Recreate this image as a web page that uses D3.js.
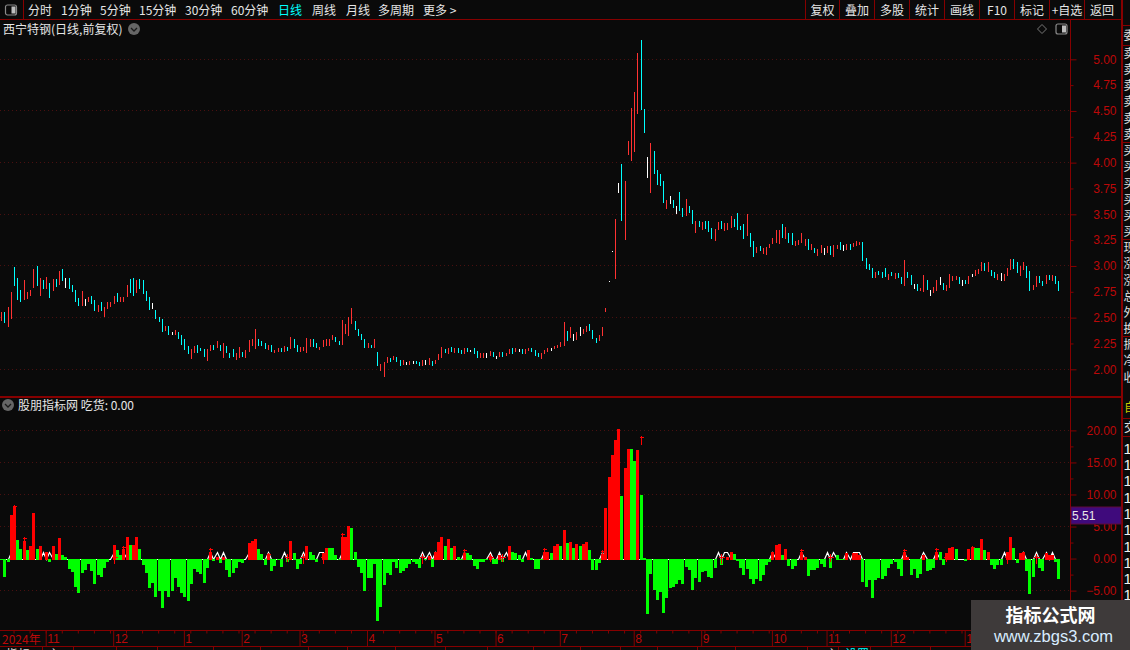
<!DOCTYPE html>
<html>
<head>
<meta charset="utf-8">
<title>西宁特钢</title>
<script src="https://cdn.jsdelivr.net/npm/d3@7"></script>
<style>
  html, body { margin: 0; padding: 0; background: #0a0a0a; overflow: hidden; }
  svg { display: block; }
  text { font-family: "Noto Sans CJK SC", "Liberation Sans", sans-serif; }
  .num text, text.num { font-family: "Liberation Sans", Arial, sans-serif; }
</style>
</head>
<body>
<div id="chart"></div>
<script>
// daily range of each trading day (10 days per row)
var candleHigh = [
  2.55,2.55,2.60,2.75,2.99,2.88,2.77,2.86,2.75,2.77,
  2.97,3.00,2.88,2.86,2.89,2.84,2.87,2.87,2.95,2.97,
  2.88,2.88,2.82,2.77,2.69,2.76,2.68,2.70,2.71,2.67,
  2.62,2.65,2.60,2.65,2.65,2.71,2.74,2.70,2.70,2.82,
  2.87,2.88,2.86,2.87,2.86,2.76,2.70,2.64,2.57,2.51,
  2.49,2.42,2.42,2.36,2.38,2.36,2.33,2.29,2.23,2.20,
  2.23,2.24,2.21,2.20,2.20,2.24,2.24,2.27,2.24,2.25,
  2.23,2.16,2.20,2.16,2.22,2.17,2.19,2.28,2.29,2.39,
  2.29,2.27,2.25,2.24,2.24,2.19,2.21,2.21,2.23,2.22,
  2.31,2.29,2.24,2.22,2.22,2.30,2.29,2.29,2.25,2.22,
  2.28,2.29,2.29,2.33,2.31,2.27,2.48,2.44,2.51,2.59,
  2.47,2.39,2.34,2.29,2.25,2.24,2.29,2.17,2.05,2.07,
  2.12,2.11,2.13,2.12,2.09,2.09,2.07,2.08,2.08,2.08,
  2.07,2.09,2.09,2.11,2.08,2.09,2.15,2.22,2.20,2.21,
  2.22,2.21,2.21,2.19,2.21,2.21,2.19,2.21,2.18,2.16,
  2.16,2.16,2.18,2.17,2.13,2.17,2.17,2.16,2.20,2.21,
  2.21,2.20,2.20,2.20,2.21,2.21,2.19,2.16,2.16,2.19,
  2.21,2.21,2.23,2.24,2.26,2.46,2.37,2.41,2.34,2.36,
  2.41,2.39,2.42,2.44,2.38,2.30,2.33,2.41,2.59,2.85,
  3.14,3.45,3.80,3.99,3.82,4.21,4.53,4.68,5.06,5.19,
  4.52,4.05,4.19,4.11,3.93,3.89,3.82,3.64,3.68,3.64,
  3.58,3.72,3.56,3.65,3.58,3.54,3.44,3.44,3.43,3.44,
  3.44,3.37,3.36,3.43,3.44,3.42,3.42,3.48,3.45,3.51,
  3.39,3.41,3.50,3.32,3.24,3.18,3.19,3.17,3.18,3.21,
  3.27,3.35,3.35,3.41,3.38,3.32,3.32,3.24,3.25,3.32,
  3.26,3.26,3.21,3.17,3.16,3.20,3.17,3.19,3.19,3.20,
  3.20,3.23,3.20,3.21,3.21,3.22,3.24,3.23,3.23,3.08,
  3.02,2.98,2.94,2.95,2.94,2.98,2.92,2.94,2.93,2.93,
  2.89,3.06,2.94,2.91,2.83,2.83,2.79,2.91,2.86,2.77,
  2.80,2.86,2.89,2.84,2.82,2.92,2.90,2.90,2.89,2.86,
  2.86,2.90,2.92,2.96,2.97,3.04,3.03,3.04,2.96,2.94,
  2.92,2.93,2.92,2.98,3.07,3.07,3.04,3.00,3.04,3.00,
  2.95,2.82,2.90,2.90,2.85,2.91,2.91,2.91,2.90,2.85
]
var candleLow = [
  2.47,2.45,2.41,2.49,2.81,2.67,2.65,2.67,2.68,2.71,
  2.79,2.81,2.71,2.78,2.78,2.69,2.76,2.80,2.82,2.85,
  2.79,2.78,2.75,2.65,2.61,2.61,2.61,2.65,2.63,2.56,
  2.55,2.56,2.51,2.58,2.60,2.63,2.65,2.65,2.65,2.70,
  2.74,2.71,2.74,2.78,2.73,2.66,2.57,2.58,2.49,2.46,
  2.36,2.37,2.33,2.33,2.33,2.29,2.24,2.19,2.15,2.10,
  2.16,2.16,2.18,2.12,2.08,2.18,2.19,2.21,2.18,2.11,
  2.16,2.11,2.12,2.09,2.11,2.12,2.11,2.17,2.23,2.20,
  2.23,2.23,2.20,2.19,2.17,2.16,2.17,2.17,2.17,2.18,
  2.20,2.21,2.17,2.17,2.18,2.16,2.22,2.22,2.21,2.19,
  2.22,2.23,2.23,2.28,2.26,2.24,2.24,2.34,2.32,2.44,
  2.38,2.32,2.28,2.21,2.21,2.21,2.21,2.03,1.98,1.93,
  2.06,2.07,2.09,2.07,2.03,2.04,2.04,2.04,2.05,2.05,
  2.03,2.03,2.04,2.04,2.03,2.05,2.09,2.11,2.16,2.15,
  2.17,2.16,2.16,2.15,2.15,2.17,2.17,2.15,2.11,2.11,
  2.11,2.11,2.13,2.12,2.10,2.12,2.12,2.13,2.15,2.15,
  2.17,2.17,2.15,2.15,2.18,2.17,2.13,2.12,2.10,2.15,
  2.17,2.18,2.20,2.21,2.22,2.23,2.27,2.30,2.27,2.28,
  2.32,2.34,2.36,2.37,2.29,2.25,2.27,2.32,2.55,2.85,
  3.14,2.87,3.71,3.44,3.25,4.07,4.02,4.10,4.47,4.51,
  4.29,3.85,3.71,3.89,3.78,3.77,3.61,3.55,3.60,3.56,
  3.50,3.53,3.47,3.48,3.51,3.41,3.32,3.38,3.35,3.36,
  3.33,3.26,3.24,3.35,3.36,3.34,3.35,3.37,3.38,3.35,
  3.35,3.26,3.29,3.18,3.09,3.13,3.14,3.12,3.11,3.17,
  3.21,3.22,3.21,3.27,3.26,3.22,3.20,3.19,3.20,3.22,
  3.19,3.15,3.15,3.13,3.10,3.13,3.11,3.13,3.11,3.09,
  3.16,3.15,3.14,3.15,3.15,3.18,3.19,3.20,3.05,2.97,
  2.96,2.88,2.88,2.91,2.88,2.89,2.86,2.90,2.87,2.88,
  2.83,2.81,2.88,2.82,2.78,2.76,2.76,2.75,2.77,2.71,
  2.74,2.76,2.82,2.77,2.76,2.79,2.85,2.86,2.83,2.81,
  2.83,2.83,2.89,2.90,2.92,2.95,2.95,2.94,2.90,2.88,
  2.86,2.85,2.85,2.90,2.96,2.97,2.93,2.90,2.96,2.88,
  2.76,2.77,2.80,2.84,2.81,2.83,2.86,2.85,2.83,2.76
]
// r = closed up, c = closed down, w = flat
var candleKinds = (
  "rcrrcccrrr" + "rcrcrcrcrc" + "wccccrwrcc" + "rcrrrrcrrr" + "ccrccccwcc" +
  "crcwrccccr" + "rcccrrcrcr" + "cccrrcrrrr" + "cccrcrrcrc" + "rccrrrrccr" +
  "rrrrccrrrr" + "ccccrcrcrr" + "rcrccrwrwc" + "crwrcrrrcr" + "crccrcwccr" +
  "rwrcwrcrrc" + "rwcrrcccrr" + "rwrrrrcrwr" + "wrrcccrrrw" + "wrwcrrrrrc" +
  "cwrccccrwc" + "wccrccrcrc" + "ccrrcrrrcc" + "ccrccrcrrr" + "rrrcrccrrr" +
  "rcrcrrwrcr" + "rcwrcrrrcc" + "ccrcccrcrc" + "crccwcrrcw" + "rrwcrrrrcw" +
  "crwrrrcrcc" + "rwrrrccrrc" + "crrccrcrcc"
).split("")

// indicator columns, one per trading day
var barValues = [
  -0.3,-2.8,-0.5,6.8,8.0,2.9,1.5,2.7,1.3,1.9,
  7.1,1.5,1.9,0,1.0,-0.5,1.9,0.7,3.2,0.5,
  0.2,-1.7,-2.1,-4.5,-5.4,-2.3,-1.8,-0.9,-2.0,-4.0,
  -2.6,-2.9,-1.4,-0.6,0,2.1,1.3,0.5,1.5,3.3,
  2.1,2.1,3.3,1.5,-1.0,-2.3,-4.6,-3.8,-6.0,-5.1,
  -7.7,-5.1,-6.0,-5.1,-3.1,-4.5,-5.3,-6.0,-6.7,-4.0,
  -1.7,-2.1,-2.4,-3.8,-1.5,1.1,-0.4,0.2,-0.7,0.2,
  -1.8,-2.9,-2.3,-1.5,-0.6,-0.7,0,2.5,2.7,3.0,
  1.5,0.7,-1.0,0.7,-2.0,-1.2,-0.3,-1.25,0,-0.6,
  2.8,0.8,-1.7,-0.9,0,1.9,1.1,0.5,-0.5,0,
  0.8,1.7,1.7,1.7,0.6,-0.3,3.3,3.4,5.1,4.7,
  1.1,-1.25,-2.3,-5.1,-3.0,-3.0,-0.9,-9.7,-7.5,-4.2,
  -2.2,-2.5,-0.5,-1.4,-2.3,-1.9,-1.4,-0.8,-0.6,-0.8,
  -1.4,0,-0.3,0.4,-1.25,1.1,2.65,3.4,2.0,3.0,
  1.7,2.0,0.2,-0.3,0.9,0.8,0.5,-1.1,-1.6,-0.5,
  -0.5,-0.3,0.4,-0.8,-0.9,0.5,-0.5,0,1.9,1.1,
  0.9,0.6,-0.6,0,1.4,0.15,-1.6,-1.6,-0.15,1.1,
  1.1,0.9,1.9,2.2,2.0,4.5,2.5,2.65,1.7,2.3,
  1.9,2.2,2.65,1.3,-1.8,-1.8,-0.7,0.7,7.9,12.7,
  16.1,18.5,20.2,9.7,14.1,17.1,17.1,15.2,16.9,9.9,
  0.1,-8.7,-2.4,-4.9,-6.5,-5.25,-8.5,-6.2,-4.6,-4.5,
  -4.0,-3.4,-4.0,-1.35,-1.8,-4.9,-3.1,-3.7,-2.1,-2.0,
  -2.8,-3.1,-1.5,0,-1.0,0,0.2,1.1,0.7,-0.4,
  -1.5,-2.6,-1.7,-3.2,-4.0,-3.2,-3.5,-2.6,-1.0,-0.6,
  1.1,2.1,2.2,0.5,1.5,-1.2,-1.7,-1.2,0,1.1,
  0.2,-2.75,-1.8,-1.8,-1.5,-0.9,-1.35,0,-1.5,0,
  0.5,-0.15,-0.15,0.8,0,0.9,0.9,0.5,-3.7,-4.5,
  -3.4,-6.2,-3.4,-3.1,-3.2,-2.75,-1.5,-0.9,-0.6,-1.7,
  -2.75,1.1,0.2,-2.6,-1.7,-3.1,-2.4,0.5,-2.0,-1.8,
  -1.5,1.1,1.0,-1.0,0.8,1.6,1.8,1.5,0,0,
  -0.4,1.5,1.8,1.6,1.6,3.0,1.3,1.0,-1.0,-1.7,
  -1.0,-1.0,0,1.1,3.3,1.6,-0.7,0.8,1.1,-2.0,
  -5.6,-2.9,0,-1.5,-2.0,0.8,0.5,0.5,-0.6,-3.2
]
// r = red column, g = green column
var barKinds = (
  "gggrrggrgr" + "rgrgrgrgrg" + "gggggggggg" + "gggggrggrr" + "grrggggggg" +
  "gggggggggg" + "gggggrgrgr" + "gggggggrrr" + "gggrgggggg" + "rggggrgggg" +
  "rrgggg" + "rrrg" + "gggggggggg" + "gggggggggg" + "gggrgrrrgr" + "grggrggggg" +
  "ggrggrggrg" + "ggggrggggr" + "rgrrgrgrgr" + "grrggggrrr" + "rrrgrrggrg" +
  "gggggggggg" + "gggggggggg" + "ggggggrrgg" + "gggggggggg" + "rrrgrggggr" +
  "rggggggggg" + "gggrgrrrgg" + "gggggggggg" + "grrggggrgg" + "grggrrrggg" +
  "grrggrgrgg" + "gggrrggrrg" + "gggggrrrgg"
).split("")

// white signal line sits at zero except on these days
var whitePeaks = [3,13,15,35,38,65,67,69,77,83,88,94,99,100,106,131,133,135,144,152,155,157,163,169,187,
  223,225,226,240,249,257,259,263,265,266,267,281,287,291,312,318,322,325,327]
var whitePeakValue = 1.05

// small red arrows above some columns
var arrowDays = [4,7,38,65,83,106,144,169,187,199,249,281,291,302]
var arrowTips = [8.3,3.4,1.9,1.6,0.9,4.0,1.5,1.7,1.3,19.1,1.5,1.5,1.7,2.0]
var arrowBases = [7.7,2.7,1.2,0.9,0.3,3.3,0.9,1.0,0.6,17.7,0.9,0.9,1.1,1.4]

// small red crosses that poke below zero
var crossDays = [35,89,94,100,131,152,156,224,258,294,313,322]
var crossLows = [-0.9,-0.6,-0.8,-0.8,-0.8,-0.5,-0.5,-0.9,-0.6,-0.5,-0.8,-0.8]

var priceTicks = [5,4.75,4.5,4.25,4,3.75,3.5,3.25,3,2.75,2.5,2.25,2]
var priceGrid = [5,4.5,4,3.5,3,2.5,2]
var indexTicks = [20,17.5,15,12.5,10,7.5,5,2.5,0,-2.5,-5]
var indexGrid = [20,15,10,5,-5]
var lastIndexValue = 5.51

var monthDays = [14,35,57,75,93,114,135,154,174,197,218,240,257,277,300]
var monthLabels = ["11","12","1","2","3","4","5","6","7","8","9","10","11","12","1"]

var toolbarLeft = [
  ["分时", 28], ["1分钟", 61], ["5分钟", 100], ["15分钟", 139], ["30分钟", 185], ["60分钟", 231],
  ["日线", 278], ["周线", 312], ["月线", 346], ["多周期", 378], ["更多 >", 423]
]
var toolbarRight = ["复权", "叠加", "多股", "统计", "画线", "F10", "标记", "+自选", "返回"]
var toolbarEdges = [805, 839, 874, 909, 944, 979, 1014, 1049, 1084, 1121]

var sideRows = [
  ["委", 35], ["卖", 53], ["卖", 69], ["卖", 85], ["卖", 101], ["卖", 118], ["卖", 134],
  ["买", 150], ["买", 166], ["买", 183], ["买", 199], ["买", 215], ["买", 231],
  ["现", 247], ["涨", 263], ["涨", 280], ["总", 296], ["外", 312], ["换", 328],
  ["振", 344], ["净", 360], ["收", 377]
]
var sideLines = [25, 45, 142, 239, 336, 418, 436]
var sideOnes = [448, 464, 480, 497, 513, 529, 546, 562, 578, 594]

var axisRed = "#860000"
var labelRed = "#bb0808"
var candleColor = { r: "#ff3232", c: "#00ffff", w: "#ffffff" }
var barColor = { r: "#ff0000", g: "#00ff00" }

var width = 1130, height = 650
var svg = d3.select("#chart").append("svg").attr("width", width).attr("height", height)
svg.append("rect").attr("width", width).attr("height", height).attr("fill", "#0a0a0a")

// one band per trading day
var x = d3.scaleBand().domain(d3.range(candleHigh.length)).range([-0.4, 1060])
var cx = function (i) { return Math.round(x(i) + x.bandwidth() / 2) }
var yPrice = d3.scaleLinear().domain([2, 5]).range([369.3, 59.3])
var yIndex = d3.scaleLinear().domain([-5, 20]).range([590.6, 430.4])

// dotted grid
var gridLine = function (values, scale) {
  svg.append("g").attr("shape-rendering", "crispEdges").selectAll("line").data(values).enter().append("line")
    .attr("x1", 0).attr("x2", 1070)
    .attr("y1", function (d) { return Math.floor(scale(d)) + 0.5 })
    .attr("y2", function (d) { return Math.floor(scale(d)) + 0.5 })
    .attr("stroke", "#4a1010").attr("stroke-dasharray", "1 3")
}
gridLine(priceGrid, yPrice)
gridLine(indexGrid, yIndex)

// candles are thin one pixel bars
svg.append("g").attr("shape-rendering", "crispEdges").selectAll("rect").data(candleHigh).enter().append("rect")
  .attr("x", function (d, i) { return cx(i) })
  .attr("width", 1)
  .attr("y", function (d) { return Math.round(yPrice(d)) })
  .attr("height", function (d, i) { return Math.max(1, Math.round(yPrice(candleLow[i])) - Math.round(yPrice(d))) })
  .attr("fill", function (d, i) { return candleColor[candleKinds[i]] })

// white signal line, hidden behind the columns apart from the gaps and peaks
var whiteLine = d3.line()
  .x(function (d, i) { return cx(i) + 0.5 })
  .y(function (d) { return Math.round(yIndex(d)) + 0.5 })
svg.append("path")
  .datum(barValues.map(function (d, i) { return whitePeaks.indexOf(i) >= 0 ? whitePeakValue : 0 }))
  .attr("d", whiteLine)
  .attr("fill", "none").attr("stroke", "#fff").attr("stroke-width", 1.2)

// indicator columns, positive ones run one row past zero to cover the line
var zeroY = Math.round(yIndex(0))
svg.append("g").attr("shape-rendering", "crispEdges").selectAll("rect").data(barValues).enter().append("rect")
  .attr("x", function (d, i) { return cx(i) - 1 })
  .attr("width", 3)
  .attr("y", function (d) { return d > 0 ? Math.round(yIndex(d)) : zeroY })
  .attr("height", function (d) { return d === 0 ? 0 : Math.abs(Math.round(yIndex(d)) - zeroY) + (d > 0 ? 1 : 0) })
  .attr("fill", function (d, i) { return barColor[barKinds[i]] })

// arrows
var marks = svg.append("g").attr("stroke", "#ff0000").attr("shape-rendering", "crispEdges")
arrowDays.forEach(function (day, n) {
  var px = cx(day) + 0.5
  var top = Math.round(yIndex(arrowTips[n]))
  marks.append("line").attr("x1", px).attr("x2", px).attr("y1", top).attr("y2", Math.round(yIndex(arrowBases[n])))
  marks.append("line").attr("x1", px - 2).attr("x2", px + 2).attr("y1", top + 1.5).attr("y2", top + 1.5)
})
// crosses
crossDays.forEach(function (day, n) {
  var px = cx(day) + 0.5
  marks.append("line").attr("x1", px).attr("x2", px).attr("y1", Math.round(yIndex(0.7))).attr("y2", Math.round(yIndex(crossLows[n])))
  marks.append("line").attr("x1", px - 3).attr("x2", px + 3).attr("y1", Math.round(yIndex(0.2)) + 0.5).attr("y2", Math.round(yIndex(0.2)) + 0.5)
})

// frame lines
var frame = svg.append("g").attr("stroke", axisRed).attr("shape-rendering", "crispEdges")
var hLine = function (y, x1, x2, w) {
  frame.append("line").attr("x1", x1).attr("x2", x2).attr("y1", y).attr("y2", y).attr("stroke-width", w || 1)
}
var vLine = function (xp, y1, y2, w) {
  frame.append("line").attr("x1", xp).attr("x2", xp).attr("y1", y1).attr("y2", y2).attr("stroke-width", w || 1)
}
hLine(19.5, 0, 1121)
hLine(397, 0, 1121, 2)
hLine(630.5, 0, 1121)
hLine(646.5, 0, 971)
vLine(1070.5, 19, 630)
vLine(1121.5, 0, 600, 2)
vLine(23.5, 0, 19)
toolbarEdges.forEach(function (e) { vLine(e + 0.5, 0, 19) })
sideLines.forEach(function (y) { hLine(y + 0.5, 1122, 1130) })

// right axes
var styleAxis = function (g, labelled) {
  g.select(".domain").remove()
  g.selectAll(".tick line").attr("stroke", axisRed)
    .attr("x2", function (d) { return labelled(d) ? 6 : 3 })
  g.selectAll(".tick text").attr("fill", labelRed).attr("font-size", 12)
    .attr("text-anchor", "end").attr("x", 46)
}
svg.append("g").attr("class", "num").attr("transform", "translate(1070.5,0)")
  .call(d3.axisRight(yPrice).tickValues(priceTicks).tickFormat(d3.format(".2f")))
  .call(styleAxis, function (d) { return priceGrid.indexOf(d) >= 0 })
svg.append("g").attr("class", "num").attr("transform", "translate(1070.5,0)")
  .call(d3.axisRight(yIndex).tickValues(indexTicks).tickFormat(function (d) {
    return d % 5 === 0 ? d3.format(".2f")(d) : ""
  }))
  .call(styleAxis, function (d) { return d % 5 === 0 })

// current value tag
svg.append("rect").attr("x", 1071).attr("y", 507).attr("width", 50).attr("height", 17)
  .attr("fill", "#3f0a7c").attr("stroke", "#5e0a3c")
svg.append("text").attr("class", "num").attr("x", 1072).attr("y", 519.5)
  .attr("fill", "#e8e8e8").attr("font-size", 12).text(lastIndexValue.toFixed(2))

// month axis along the bottom
var monthAxis = d3.axisBottom(x).tickValues(monthDays).tickSize(16)
  .tickFormat(function (d, i) { return monthLabels[i] })
svg.append("g").attr("class", "num").attr("transform", "translate(0,630.5)").call(monthAxis)
  .call(function (g) {
    g.select(".domain").remove()
    g.selectAll(".tick line").attr("stroke", axisRed)
    g.selectAll(".tick text").attr("fill", labelRed).attr("font-size", 12)
      .attr("text-anchor", "start").attr("x", 1).attr("y", 3.5)
  })
svg.append("g").attr("transform", "translate(0,630.5)")
  .call(d3.axisBottom(x).tickValues(d3.range(4, 330, 5)).tickSize(3).tickFormat(""))
  .call(function (g) {
    g.select(".domain").remove()
    g.selectAll(".tick line").attr("stroke", axisRed)
  })
svg.append("text").attr("x", 2).attr("y", 643.5).attr("fill", labelRed).attr("font-size", 12).text("2024年")

// tabs clipped by the bottom of the window
;[42, 73, 116, 157, 213, 260, 308, 347, 395, 445, 487, 533, 580, 620, 657, 697, 735, 807, 838, 870, 930].forEach(function (t) {
  vLine(t + 0.5, 646, 650)
})
svg.append("text").attr("x", 6).attr("y", 659).attr("fill", "#ddd").attr("font-size", 12).text("指标")
svg.append("text").attr("x", 48).attr("y", 659).attr("fill", "#ddd").attr("font-size", 12).text("主")
svg.append("text").attr("x", 826).attr("y", 659).attr("fill", "#ddd").attr("font-size", 12).text("主")
svg.append("text").attr("x", 845).attr("y", 659).attr("fill", "#00ffff").attr("font-size", 12).text("设置")

// toolbar
svg.selectAll(".tbl").data(toolbarLeft).enter().append("text")
  .attr("x", function (d) { return d[1] }).attr("y", 14.5)
  .attr("font-size", 12)
  .attr("fill", function (d) { return d[0] === "日线" ? "#00ffff" : "#e6e6e6" })
  .text(function (d) { return d[0] })
svg.selectAll(".tbr").data(toolbarRight).enter().append("text")
  .attr("x", function (d, i) { return (toolbarEdges[i] + toolbarEdges[i + 1]) / 2 + (i === 8 ? -0.5 : 0.5) })
  .attr("y", 14.5).attr("text-anchor", "middle").attr("font-size", 12).attr("fill", "#e6e6e6")
  .text(function (d) { return d })

// small icons
var panelIcon = function (xp, yp) {
  svg.append("rect").attr("x", xp).attr("y", yp).attr("width", 11).attr("height", 10).attr("rx", 2)
    .attr("fill", "none").attr("stroke", "#8a8a8a").attr("stroke-width", 1.2)
  svg.append("rect").attr("x", xp + 6).attr("y", yp + 1.5).attr("width", 4).attr("height", 7).attr("fill", "#bdbdbd")
}
var roundIcon = function (xp, yp) {
  svg.append("circle").attr("cx", xp).attr("cy", yp).attr("r", 6).attr("fill", "#666")
  svg.append("path").attr("d", "M" + (xp - 3) + "," + (yp - 1) + "L" + xp + "," + (yp + 2) + "L" + (xp + 3) + "," + (yp - 1))
    .attr("fill", "none").attr("stroke", "#1a1a1a").attr("stroke-width", 1.3)
}
panelIcon(5.5, 5)
panelIcon(1056, 24)
roundIcon(134, 29)
roundIcon(8, 405)
svg.append("path").attr("d", "M1042,24.5L1046.5,29L1042,33.5L1037.5,29Z").attr("fill", "none").attr("stroke", "#777")

svg.append("text").attr("x", 3).attr("y", 34).attr("fill", "#e6e6e6").attr("font-size", 12).text("西宁特钢(日线,前复权)")
svg.append("text").attr("x", 18).attr("y", 410).attr("fill", "#e6e6e6").attr("font-size", 12).text("股朋指标网 吃货: 0.00")

// the list panel cut off at the right edge
svg.selectAll(".side").data(sideRows).enter().append("text")
  .attr("x", 1123.5).attr("y", function (d) { return d[1] + 5 })
  .attr("font-size", 12).attr("fill", "#e0e0e0").text(function (d) { return d[0] })
svg.append("text").attr("x", 1124).attr("y", 412).attr("font-size", 12).attr("fill", "#c8c800").text("自")
svg.append("text").attr("x", 1124).attr("y", 432).attr("font-size", 12).attr("fill", "#e0e0e0").text("交")
svg.selectAll(".ones").data(sideOnes).enter().append("text").attr("class", "num")
  .attr("x", 1123.5).attr("y", function (d) { return d + 5.5 })
  .attr("font-size", 15).attr("fill", "#f0f0f0").text("1")

// watermark
svg.append("rect").attr("x", 971).attr("y", 600).attr("width", 159).attr("height", 50).attr("fill", "#3e3a3a")
svg.append("text").attr("x", 1050.5).attr("y", 622).attr("text-anchor", "middle")
  .attr("font-size", 18).attr("font-weight", 700).attr("fill", "#ffffff").text("指标公式网")
svg.append("text").attr("class", "num").attr("x", 1053.5).attr("y", 641.5).attr("text-anchor", "middle")
  .attr("font-size", 16.5).attr("fill", "#d8ecff").text("www.zbgs3.com")
</script>
</body>
</html>
